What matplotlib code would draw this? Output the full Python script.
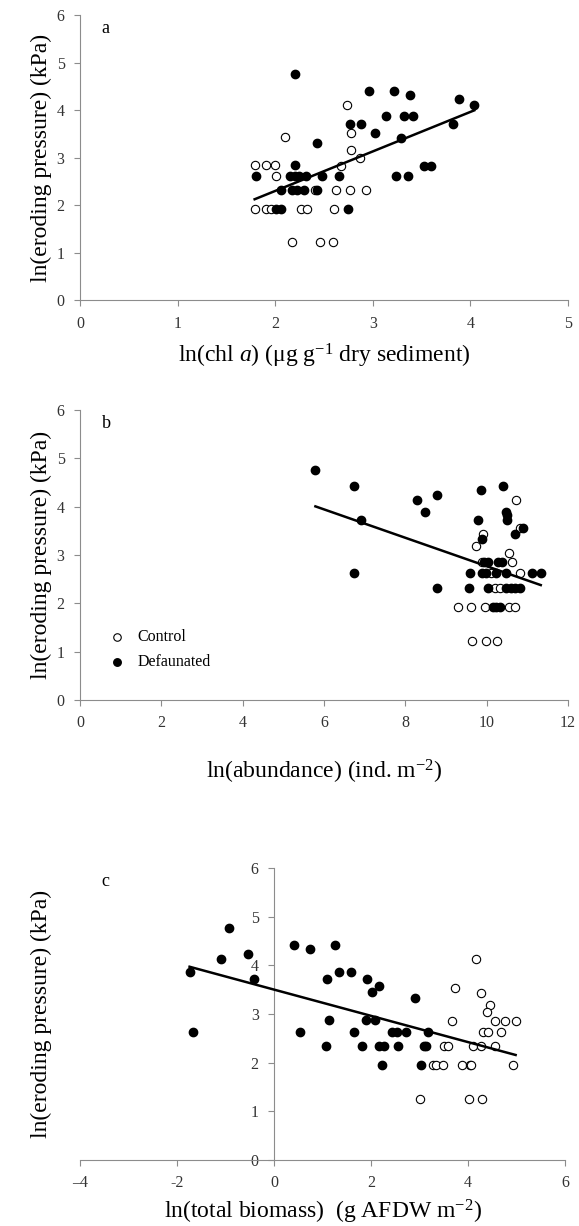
import numpy as np
import matplotlib
matplotlib.use("Agg")
import matplotlib.pyplot as plt

plt.rcParams["font.family"] = ["Liberation Serif", "DejaVu Serif"]
plt.rcParams["mathtext.fontset"] = "custom"
plt.rcParams["mathtext.rm"] = "Liberation Serif"
plt.rcParams["mathtext.it"] = "Liberation Serif:italic"

# panel a: ln(chl a)
a_ctrl_x = [1.79, 1.91, 2.00, 2.01, 2.10, 1.79, 1.91, 1.96, 2.26, 2.33, 2.60,
            2.41, 2.62, 2.77, 2.93, 2.67, 2.74, 2.78, 2.78, 2.87, 2.17, 2.46, 2.59]
a_ctrl_y = [2.84, 2.84, 2.84, 2.61, 3.43, 1.92, 1.92, 1.92, 1.92, 1.92, 1.92,
            2.32, 2.32, 2.32, 2.32, 2.83, 4.12, 3.53, 3.16, 3.00, 1.23, 1.23, 1.23]
a_def_x = [1.80, 2.20, 2.20, 2.06, 2.06, 2.01, 2.15, 2.20, 2.24, 2.32, 2.48, 2.65,
           2.17, 2.22, 2.30, 2.43, 2.43, 2.75, 2.77, 2.88, 2.96, 3.02, 3.14, 3.22,
           3.29, 3.32, 3.38, 3.41, 3.24, 3.36, 3.52, 3.60, 3.82, 3.88, 4.04]
a_def_y = [2.61, 4.76, 2.84, 2.32, 1.92, 1.92, 2.61, 2.61, 2.61, 2.61, 2.61, 2.61,
           2.32, 2.32, 2.32, 2.32, 3.31, 1.92, 3.72, 3.72, 4.41, 3.53, 3.88, 4.41,
           3.41, 3.88, 4.33, 3.88, 2.61, 2.61, 2.83, 2.83, 3.72, 4.23, 4.12]
a_fit = (0.832, 0.639)

# panel b: ln(abundance)
b_ctrl_x = [9.29, 9.61, 9.95, 10.56, 10.70, 9.63, 9.99, 10.25, 9.75, 9.90, 9.88,
            10.20, 10.33, 10.10, 10.54, 10.62, 10.71, 10.82, 10.83]
b_ctrl_y = [1.93, 1.93, 1.93, 1.93, 1.93, 1.22, 1.22, 1.22, 3.18, 3.44, 2.85,
            2.32, 2.32, 2.62, 3.04, 2.85, 4.13, 2.62, 3.55]
b_def_x = [5.79, 6.75, 6.75, 6.92, 8.28, 8.49, 8.79, 8.77, 9.56, 9.60, 9.79, 9.86,
           9.88, 9.88, 9.99, 9.93, 10.04, 10.04, 10.15, 10.24, 10.33, 10.29, 10.38,
           10.24, 10.40, 10.47, 10.49, 10.51, 10.47, 10.47, 10.59, 10.70, 10.70,
           10.83, 10.90, 11.12, 11.33]
b_def_y = [4.77, 4.42, 2.62, 3.73, 4.13, 3.89, 4.24, 2.32, 2.32, 2.62, 3.73, 4.34,
           3.34, 2.62, 2.62, 2.85, 2.85, 2.32, 1.93, 1.93, 1.93, 2.85, 2.85,
           2.62, 4.42, 3.89, 3.82, 3.73, 2.62, 2.32, 2.32, 3.44, 2.32,
           2.32, 3.55, 2.62, 2.62]
b_fit = (-0.294, 5.71)

# panel c: ln(total biomass)
c_ctrl_x = [3.74, 3.67, 4.17, 4.26, 4.45, 4.38, 4.56, 4.77, 4.98, 4.31, 4.41, 4.67,
            3.50, 3.58, 4.10, 4.27, 4.55, 3.27, 3.34, 3.49, 3.88, 4.04, 4.07, 4.92,
            3.00, 4.02, 4.28]
c_ctrl_y = [3.54, 2.86, 4.12, 3.44, 3.19, 3.03, 2.86, 2.86, 2.86, 2.63, 2.63, 2.63,
            2.35, 2.35, 2.34, 2.34, 2.35, 1.94, 1.94, 1.94, 1.94, 1.94, 1.94, 1.94,
            1.25, 1.25, 1.25]
c_def_x = [-1.74, -1.66, -1.09, -0.92, -0.53, -0.41, 0.41, 0.53, 0.74, 1.08, 1.10,
           1.14, 1.25, 1.33, 1.59, 1.65, 1.81, 1.92, 1.90, 2.03, 2.08, 2.16, 2.16,
           2.26, 2.23, 2.43, 2.53, 2.55, 2.72, 2.91, 3.02, 3.10, 3.14, 3.18]
c_def_y = [3.87, 2.62, 4.12, 4.76, 4.24, 3.72, 4.42, 2.62, 4.34, 2.35, 3.72,
           2.87, 4.42, 3.87, 3.87, 2.62, 2.35, 3.72, 2.87, 3.45, 2.87, 3.57, 2.35,
           2.35, 1.94, 2.62, 2.62, 2.35, 2.62, 3.32, 1.94, 2.35, 2.35, 2.62]
c_fit = (-0.270, 3.50)

y_ticks = [0, 1, 2, 3, 4, 5, 6]
ylabel = "ln(eroding pressure) (kPa)"
spine_col = "#8c8c8c"


def draw_panel(ax, ctrl_x, ctrl_y, def_x, def_y, fit, letter):
    ax.scatter(ctrl_x, ctrl_y, s=36, facecolor="white", edgecolor="black",
               linewidth=0.8, zorder=3, label="Control")
    ax.scatter(def_x, def_y, s=36, color="black", zorder=3, label="Defaunated")
    xs = np.array([min(ctrl_x + def_x), max(ctrl_x + def_x)])
    ax.plot(xs, fit[0] * xs + fit[1], color="black", lw=1.8, zorder=4)

    ax.set_ylim(0, 6)
    ax.set_yticks(y_ticks)
    for s in ["top", "right"]:
        ax.spines[s].set_visible(False)
    for s in ["left", "bottom"]:
        ax.spines[s].set_color(spine_col)
    ax.tick_params(direction="out", length=4, width=0.8, color=spine_col,
                   labelsize=11.5, labelcolor="#333333", pad=7)
    ax.set_ylabel(ylabel, fontsize=17)
    ax.yaxis.set_label_coords(-0.058, 0.5)
    ax.text(0.045, 0.955, letter, transform=ax.transAxes, fontsize=13,
            ha="left", va="center")


fig = plt.figure(figsize=(5.79, 12.26), dpi=100)

ax_a = fig.add_axes([0.138, 0.755, 0.843, 0.2325])
draw_panel(ax_a, a_ctrl_x, a_ctrl_y, a_def_x, a_def_y, a_fit, "a")
ax_a.set_xlim(0, 5)
ax_a.set_xticks([0, 1, 2, 3, 4, 5])
ax_a.set_xlabel(r"ln(chl $\mathit{a}$) ($\mathrm{\mu}$g g$^{-1}$ dry sediment)",
                fontsize=17, labelpad=7)

ax_b = fig.add_axes([0.138, 0.429, 0.843, 0.2365])
draw_panel(ax_b, b_ctrl_x, b_ctrl_y, b_def_x, b_def_y, b_fit, "b")
ax_b.set_xlim(0, 12)
ax_b.set_xticks([0, 2, 4, 6, 8, 10, 12])
ax_b.set_xlabel(r"ln(abundance) (ind. m$^{-2}$)", fontsize=17, labelpad=19)
ax_b.legend(loc="lower left", bbox_to_anchor=(0.03, 0.08), frameon=False,
            fontsize=11.5, handletextpad=0.3, labelspacing=0.6, markerscale=0.9,
            borderaxespad=0)

ax_c = fig.add_axes([0.138, 0.054, 0.838, 0.238])
draw_panel(ax_c, c_ctrl_x, c_ctrl_y, c_def_x, c_def_y, c_fit, "c")
ax_c.set_xlim(-4, 6)
ax_c.set_xticks([-4, -2, 0, 2, 4, 6])
ax_c.set_xticklabels(["\u20134", "-2", "0", "2", "4", "6"])
ax_c.spines["left"].set_position(("data", 0))
ax_c.set_xlabel(r"ln(total biomass)  (g AFDW m$^{-2}$)", fontsize=17, labelpad=5)
ax_c.yaxis.set_label_coords(-0.058, 0.5)

fig.savefig("out.png", dpi=100)
